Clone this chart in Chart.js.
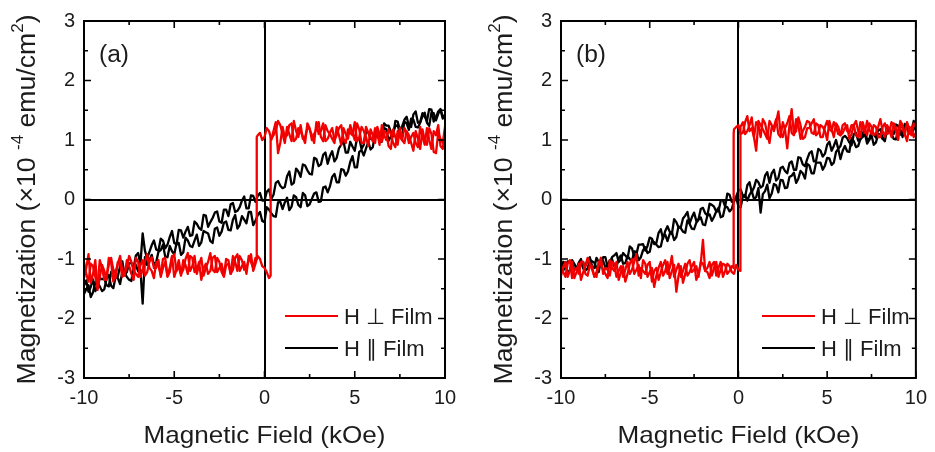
<!DOCTYPE html>
<html>
<head>
<meta charset="utf-8">
<script src="https://cdn.jsdelivr.net/npm/chart.js@4.4.0/dist/chart.umd.min.js"></script>
<style>
  html, body { margin: 0; padding: 0; background: #fff; }
  #wrap { position: relative; width: 935px; height: 452px; }
  .panel { position: absolute; top: 0; height: 452px; }
</style>
</head>
<body>
<div id="wrap">
  <div class="panel" style="left:0;width:467px"><canvas id="chartA"></canvas></div>
  <div class="panel" style="left:467px;width:468px"><canvas id="chartB"></canvas></div>
</div>
<script>
// Field grid (kOe), shared by every branch, plus the half-step points between
const field = [
  -10,-9.75,-9.5,-9.25,-9,-8.75,-8.5,-8.25,
  -8,-7.75,-7.5,-7.25,-7,-6.75,-6.5,-6.25,
  -6,-5.75,-5.5,-5.25,-5,-4.75,-4.5,-4.25,
  -4,-3.75,-3.5,-3.25,-3,-2.75,-2.5,-2.25,
  -2,-1.75,-1.5,-1.25,-1,-0.75,-0.5,-0.25,
  0,0.25,0.5,0.75,1,1.25,1.5,1.75,
  2,2.25,2.5,2.75,3,3.25,3.5,3.75,
  4,4.25,4.5,4.75,5,5.25,5.5,5.75,
  6,6.25,6.5,6.75,7,7.25,7.5,7.75,
  8,8.25,8.5,8.75,9,9.25,9.5,9.75,
  10
];
const fieldMid = [
  -9.875,-9.625,-9.375,-9.125,-8.875,-8.625,-8.375,-8.125,
  -7.875,-7.625,-7.375,-7.125,-6.875,-6.625,-6.375,-6.125,
  -5.875,-5.625,-5.375,-5.125,-4.875,-4.625,-4.375,-4.125,
  -3.875,-3.625,-3.375,-3.125,-2.875,-2.625,-2.375,-2.125,
  -1.875,-1.625,-1.375,-1.125,-0.875,-0.625,-0.375,-0.125,
  0.125,0.375,0.625,0.875,1.125,1.375,1.625,1.875,
  2.125,2.375,2.625,2.875,3.125,3.375,3.625,3.875,
  4.125,4.375,4.625,4.875,5.125,5.375,5.625,5.875,
  6.125,6.375,6.625,6.875,7.125,7.375,7.625,7.875,
  8.125,8.375,8.625,8.875,9.125,9.375,9.625,9.875
];

// Panel (a): H perpendicular (red), increasing / decreasing field
const aPerpUp = [
  -1.32,-0.92,-1.25,-1.52,-1.10,-1.35,-1.05,-1.22,
  -0.95,-1.28,-1.12,-1.35,-1.05,-1.18,-0.92,-1.20,
  -1.05,-1.25,-0.98,-1.15,-1.30,-1.02,-1.18,-0.90,
  -1.12,-1.25,-0.98,-1.15,-0.90,-1.22,-1.05,-1.30,
  -1.08,-0.95,-1.20,-1.02,-1.15,-0.92,-1.08,-1.00,
  -1.15,-1.32,1.15,0.78,1.22,1.08,1.28,1.02,
  1.15,0.95,1.20,1.10,1.30,0.98,1.15,1.02,
  1.22,0.92,1.10,1.25,1.00,1.18,0.95,1.12,
  0.98,1.15,1.25,1.00,1.10,0.88,1.05,1.20,
  0.95,1.12,0.88,1.05,1.20,0.85,1.08,0.90,
  1.15
];
const aPerpUpMid = [
  -1.15,-1.40,-1.02,-1.30,-1.20,-0.98,-1.38,-1.08,
  -1.20,-1.02,-1.25,-0.98,-1.30,-1.05,-1.15,-1.32,
  -1.12,-1.00,-1.28,-0.95,-1.18,-1.25,-1.00,-1.20,
  -0.95,-1.10,-1.28,-1.05,-1.18,-0.98,-1.22,-1.10,
  -1.25,-1.05,-0.95,-1.18,-1.02,-1.20,-0.95,-1.12,
  -1.22,1.00,1.30,0.95,1.05,1.25,0.98,1.20,
  1.05,1.28,1.00,1.18,1.05,1.25,1.10,0.95,
  1.08,1.20,1.02,1.12,1.28,0.95,1.22,1.05,
  1.20,0.92,1.08,1.18,0.95,1.15,1.00,1.12,
  1.05,0.95,1.22,0.92,1.00,1.15,1.25,0.85
];
const aPerpDown = [
  -1.05,-1.38,-1.12,-1.45,-1.15,-1.28,-0.98,-1.32,
  -1.08,-1.25,-0.95,-1.20,-1.30,-1.02,-1.22,-0.97,
  -1.15,-1.30,-1.05,-1.22,-0.92,-1.12,-1.02,-1.25,
  -0.98,-1.18,-1.35,-1.08,-1.20,-0.95,-1.15,-1.28,
  -1.02,-1.18,-0.92,-1.12,-1.25,-1.05,-0.98,1.12,
  1.05,1.15,1.08,1.32,1.10,1.22,0.98,1.15,
  1.25,1.05,1.18,0.95,1.10,1.28,1.02,1.20,
  1.08,1.25,0.95,1.12,1.30,1.05,1.15,0.90,
  1.08,1.22,0.98,1.12,0.85,1.05,1.20,0.95,
  1.08,0.82,1.02,1.18,0.92,1.10,0.78,1.02,
  1.22
];
const aPerpDownMid = [
  -1.25,-1.08,-1.30,-1.02,-1.35,-1.10,-1.18,-1.05,
  -1.30,-1.12,-1.05,-1.25,-1.10,-1.28,-1.05,-1.15,
  -1.02,-1.15,-1.30,-0.98,-1.20,-1.28,-1.10,-0.95,
  -1.22,-1.05,-1.15,-1.25,-0.98,-1.22,-1.08,-1.00,
  -1.25,-0.98,-1.20,-1.05,-0.95,-1.15,1.08,1.00,
  1.20,1.02,1.15,1.25,0.95,1.10,1.32,1.05,
  1.02,1.20,1.08,1.30,1.15,0.98,1.12,1.00,
  1.20,1.02,1.18,1.08,0.98,1.22,1.05,1.18,
  0.95,1.10,1.15,0.90,1.18,0.92,1.00,1.15,
  0.95,1.15,0.85,1.00,1.20,0.80,1.12,0.95
];
// switching steps [field, M]
const aPerpUpStep = [[0.34, -1.28], [0.34, 1.05]];
const aPerpDownStep = [[-0.43, -1.0], [-0.43, 1.05]];

// Panel (a): H parallel (black)
const aParUp = [
  -1.59,-1.44,-1.56,-1.40,-1.54,-1.33,-1.45,-1.30,
  -1.42,-1.24,-1.35,-1.12,-1.21,-1.75,-1.10,-0.93,
  -1.05,-0.85,-0.96,-0.78,-0.92,-0.73,-0.89,-0.69,
  -0.80,-0.59,-0.72,-0.55,-0.70,-0.49,-0.61,-0.39,
  -0.51,-0.34,-0.49,-0.28,-0.40,-0.21,-0.36,-0.21,
  -0.38,-0.17,-0.28,-0.05,-0.16,0.03,-0.12,0.04,
  -0.13,0.07,-0.08,0.10,-0.04,0.20,0.12,0.38,
  0.29,0.51,0.40,0.63,0.54,0.80,0.74,0.97,
  0.88,1.09,0.97,1.18,1.06,1.23,1.12,1.31,
  1.17,1.34,1.21,1.40,1.29,1.46,1.33,1.51,
  1.41
];
const aParUpMid = [
  -1.51,-1.64,-1.39,-1.46,-1.51,-1.27,-1.49,-1.32,
  -1.21,-1.30,-1.37,-1.10,-1.18,-0.97,-1.02,-1.10,
  -0.88,-0.76,-0.97,-0.87,-0.74,-0.93,-0.64,-0.78,
  -0.69,-0.78,-0.53,-0.57,-0.73,-0.47,-0.54,-0.37,
  -0.52,-0.26,-0.43,-0.34,-0.21,-0.43,-0.26,-0.36,
  -0.13,-0.23,-0.29,-0.04,-0.05,-0.18,0.07,-0.09,
  0.11,-0.11,0.01,0.12,-0.03,0.22,0.22,0.43,
  0.29,0.50,0.47,0.73,0.54,0.83,0.86,0.84,
  1.11,0.99,1.20,0.99,1.14,1.25,1.06,1.28,
  1.36,1.22,1.29,1.46,1.24,1.45,1.44,1.36
];
const aParDown = [
  -1.45,-1.55,-1.34,-1.47,-1.34,-1.44,-1.22,-1.31,
  -1.12,-1.27,-1.07,-1.14,-0.90,-0.57,-0.99,-0.77,
  -0.84,-0.66,-0.82,-0.63,-0.73,-0.51,-0.64,-0.46,
  -0.60,-0.41,-0.51,-0.27,-0.38,-0.22,-0.37,-0.17,
  -0.28,-0.06,-0.19,-0.02,-0.15,0.07,-0.04,0.11,
  -0.02,0.17,0.08,0.31,0.19,0.39,0.25,0.52,
  0.38,0.57,0.43,0.70,0.56,0.75,0.60,0.81,
  0.70,0.92,0.79,0.97,0.82,1.03,0.92,1.13,
  1.02,1.19,1.05,1.24,1.14,1.32,1.17,1.34,
  1.23,1.43,1.29,1.45,1.32,1.51,1.38,1.52,
  1.42
];
const aParDownMid = [
  -1.36,-1.47,-1.54,-1.32,-1.33,-1.46,-1.18,-1.29,
  -1.04,-1.22,-1.07,-0.94,-1.09,-0.86,-0.88,-0.69,
  -0.86,-0.69,-0.76,-0.53,-0.76,-0.52,-0.54,-0.61,
  -0.37,-0.48,-0.26,-0.46,-0.31,-0.20,-0.39,-0.17,
  -0.08,-0.21,-0.13,0.05,-0.15,0.06,0.06,-0.02,
  0.13,0.01,0.28,0.23,0.21,0.47,0.28,0.47,
  0.59,0.49,0.42,0.68,0.59,0.79,0.73,0.64,
  0.86,0.98,0.79,0.89,1.03,0.85,1.15,1.02,
  1.12,1.03,1.28,1.24,1.06,1.31,1.23,1.39,
  1.22,1.48,1.30,1.39,1.52,1.31,1.48,1.39
];

// Panel (b): H perpendicular (red)
const bPerpUp = [
  -1.28,-1.05,-1.20,-1.32,-1.08,-1.22,-0.98,-1.18,
  -1.30,-1.10,-1.25,-1.02,-1.20,-1.35,-1.12,-1.25,
  -1.00,-1.18,-1.32,-1.08,-1.22,-1.47,-1.15,-1.28,
  -1.05,-1.20,-1.55,-1.12,-1.25,-1.02,-1.18,-1.30,
  -1.08,-1.22,-1.10,-1.28,-1.05,-1.20,-1.12,-1.25,
  -1.18,1.30,1.15,1.38,0.82,1.25,1.10,1.32,
  1.15,1.48,1.05,1.28,1.12,1.35,1.02,1.22,
  1.30,1.10,1.25,1.05,1.32,1.15,1.22,1.08,
  1.28,1.12,1.25,1.05,1.20,1.32,1.10,1.22,
  1.05,1.28,1.12,1.25,1.00,1.20,1.30,1.08,
  1.22
];
const bPerpUpMid = [
  -1.15,-1.30,-1.05,-1.22,-1.35,-1.12,-1.08,-1.28,
  -1.05,-1.18,-1.32,-1.15,-1.05,-1.22,-1.38,-1.08,
  -1.25,-1.10,-1.02,-1.30,-1.15,-1.28,-1.05,-1.20,
  -1.32,-1.10,-1.28,-1.40,-1.08,-1.22,-1.12,-1.05,
  -1.20,-1.32,-1.05,-1.15,-1.30,-1.08,-1.22,-1.10,
  1.22,1.10,1.25,1.05,1.32,1.18,1.02,1.25,
  1.30,1.12,1.20,1.40,1.08,1.25,1.15,1.32,
  1.12,1.28,1.05,1.22,1.18,1.30,1.10,1.25,
  1.15,1.25,1.08,1.30,1.12,1.18,1.25,1.05,
  1.22,1.10,1.30,1.15,1.25,1.08,1.18,1.28
];
const bPerpDown = [
  -1.10,-1.30,-1.02,-1.18,-1.25,-1.05,-1.28,-1.12,
  -1.22,-0.98,-1.15,-1.28,-1.08,-1.20,-1.30,-1.05,
  -1.18,-0.92,-1.15,-1.25,-1.05,-1.20,-1.35,-1.10,
  -1.25,-0.95,-1.18,-1.30,-1.08,-1.22,-1.05,-1.25,
  -0.68,-1.15,-1.28,-1.05,-1.18,-1.10,-1.20,1.18,
  1.25,1.12,1.40,1.20,1.30,1.05,1.28,0.95,
  1.22,1.10,1.30,0.86,1.52,1.15,1.25,1.05,
  1.20,1.35,1.12,1.22,1.00,1.18,1.28,1.08,
  1.20,1.02,1.25,1.15,1.30,1.08,1.22,1.12,
  1.35,1.05,1.18,1.28,1.10,1.25,0.98,1.20,
  1.12
];
const bPerpDownMid = [
  -1.22,-1.08,-1.32,-1.15,-1.05,-1.25,-1.10,-1.30,
  -1.08,-1.25,-1.18,-1.05,-1.30,-1.12,-1.18,-1.25,
  -1.05,-1.28,-1.20,-1.10,-1.38,-1.15,-1.22,-1.02,
  -1.15,-1.30,-1.08,-1.20,-1.28,-1.12,-1.35,-1.08,
  -1.20,-1.05,-1.15,-1.30,-1.08,-1.25,-1.12,1.22,
  1.10,1.30,1.15,1.05,1.25,1.35,1.10,1.22,
  1.35,1.05,1.18,1.25,1.10,1.38,1.02,1.20,
  1.28,1.08,1.25,1.15,1.32,1.05,1.22,1.12,
  1.25,1.10,1.32,1.05,1.18,1.28,1.08,1.22,
  1.15,1.25,1.05,1.20,1.32,1.10,1.22,1.05
];
const bPerpUpStep = [[0.1, -1.2], [0.1, 1.08]];
const bPerpDownStep = [[-0.27, -1.15], [-0.27, 1.1]];

// Panel (b): H parallel (black)
const bParUp = [
  -1.18,-1.06,-1.20,-1.08,-1.17,-1.05,-1.16,-1.04,
  -1.15,-1.03,-1.14,-1.02,-1.12,-0.99,-1.08,-0.95,
  -1.04,-0.88,-0.97,-0.80,-0.88,-0.72,-0.80,-0.62,
  -0.70,-0.55,-0.63,-0.48,-0.56,-0.41,-0.50,-0.34,
  -0.42,-0.27,-0.36,-0.20,-0.30,-0.12,-0.20,-0.02,
  -0.12,0.06,-0.02,0.14,0.04,-0.22,0.14,0.02,
  0.26,0.12,0.32,0.20,0.40,0.28,0.48,0.35,
  0.57,0.44,0.62,0.50,0.70,0.58,0.80,0.68,
  0.90,0.80,0.98,0.90,1.05,0.94,1.08,0.96,
  1.10,0.98,1.14,1.02,1.17,1.05,1.20,1.10,
  1.22
];
const bParUpMid = [
  -1.05,-1.22,-1.02,-1.15,-1.10,-1.19,-1.01,-1.06,
  -1.22,-1.03,-1.11,-1.00,-1.14,-0.94,-1.07,-1.00,
  -0.87,-1.02,-0.85,-0.90,-0.70,-0.76,-0.79,-0.59,
  -0.58,-0.68,-0.45,-0.54,-0.35,-0.49,-0.39,-0.30,
  -0.43,-0.25,-0.29,-0.14,-0.28,-0.13,-0.16,0.04,
  -0.13,0.08,0.08,0.01,0.19,0.09,0.25,0.10,
  0.24,0.33,0.19,0.38,0.45,0.35,0.44,0.60,
  0.44,0.62,0.62,0.57,0.69,0.62,0.85,0.82,
  0.81,1.03,0.88,1.02,1.11,1.00,0.92,1.10,
  1.02,1.17,1.10,1.01,1.18,1.27,1.11,1.18
];
const bParDown = [
  -1.02,-1.15,-1.05,-1.18,-1.06,-1.16,-1.02,-1.12,
  -0.98,-1.10,-0.97,-1.08,-0.94,-1.05,-0.90,-0.99,
  -0.82,-0.92,-0.76,-0.86,-0.64,-0.75,-0.56,-0.66,
  -0.45,-0.58,-0.38,-0.47,-0.27,-0.40,-0.22,-0.33,
  -0.14,-0.27,-0.09,-0.20,-0.02,-0.12,0.08,-0.04,
  0.15,0.06,0.24,0.12,0.33,0.20,0.40,0.28,
  0.50,0.36,0.55,0.44,0.64,0.50,0.70,0.56,
  0.78,0.64,0.85,0.72,0.92,0.82,1.00,0.90,
  1.07,0.96,1.10,0.99,1.12,1.00,1.14,1.04,
  1.18,1.06,1.20,1.10,1.24,1.12,1.27,1.15,
  1.26
];
const bParDownMid = [
  -1.19,-1.04,-1.08,-1.17,-1.00,-1.11,-0.97,-1.15,
  -1.05,-0.97,-1.13,-0.97,-0.90,-1.01,-0.94,-0.79,
  -0.96,-0.76,-0.75,-0.78,-0.66,-0.73,-0.50,-0.53,
  -0.54,-0.33,-0.47,-0.32,-0.21,-0.30,-0.36,-0.16,
  -0.23,-0.07,-0.12,-0.20,-0.01,0.10,-0.04,0.05,
  0.17,0.04,0.29,0.20,0.29,0.23,0.46,0.44,
  0.32,0.53,0.48,0.61,0.50,0.71,0.59,0.68,
  0.81,0.65,0.82,0.77,0.97,0.90,0.85,1.04,
  1.03,0.91,1.12,1.01,1.18,1.02,1.10,1.17,
  1.02,1.18,1.12,1.26,1.09,1.21,1.15,1.32
];

// axis ticks
const xMajorTicks = [-10, -5, 0, 5, 10];
const xMinorTicks = [-7.5, -2.5, 2.5, 7.5];
const yMajorTicks = [-3, -2, -1, 0, 1, 2, 3];
const yMinorTicks = [-2.5, -1.5, -0.5, 0.5, 1.5, 2.5];

const legendLabels = ['H \u22a5 Film', 'H \u2225 Film'];
const RED = '#f20000';
const INK = '#1c1c1c';
const FONT = '"Liberation Sans", Arial, sans-serif';

function toPoints(main, mid, step) {
  const pts = [];
  field.forEach((x, i) => {
    pts.push({ x: x, y: main[i] });
    if (i < fieldMid.length) pts.push({ x: fieldMid[i], y: mid[i] });
  });
  if (step) {
    const at = pts.findIndex(p => p.x > step[0][0]);
    pts.splice(at, 0, ...step.map(s => ({ x: s[0], y: s[1] })));
  }
  return pts;
}

function branch(main, mid, step, color) {
  return {
    data: toPoints(main, mid, step),
    borderColor: color,
    borderWidth: 2.3,
    borderJoinStyle: 'round',
    pointRadius: 0,
    fill: false,
    tension: 0
  };
}

function drawStretched(ctx, text, x, y, width, align) {
  const w = ctx.measureText(text).width;
  ctx.save();
  ctx.translate(x, y);
  ctx.scale(width / w, 1);
  ctx.textAlign = align;
  ctx.fillText(text, 0, 0);
  ctx.restore();
}

const decor = {
  id: 'decor',
  afterDatasetsDraw(chart, args, opts) {
    const { ctx, chartArea: a, scales: { x, y } } = chart;
    ctx.save();
    ctx.strokeStyle = '#000';
    ctx.lineWidth = 2;
    ctx.strokeRect(a.left, a.top, a.right - a.left, a.bottom - a.top);

    // inward ticks on all four sides
    ctx.lineWidth = 1.6;
    ctx.beginPath();
    const tickX = (vals, len) => {
      vals.forEach(v => {
        const px = x.getPixelForValue(v);
        ctx.moveTo(px, a.bottom); ctx.lineTo(px, a.bottom - len);
        ctx.moveTo(px, a.top); ctx.lineTo(px, a.top + len);
      });
    };
    const tickY = (vals, len) => {
      vals.forEach(v => {
        const py = y.getPixelForValue(v);
        ctx.moveTo(a.left, py); ctx.lineTo(a.left + len, py);
        ctx.moveTo(a.right, py); ctx.lineTo(a.right - len, py);
      });
    };
    tickX(xMajorTicks, 7); tickX(xMinorTicks, 4);
    tickY(yMajorTicks, 7); tickY(yMinorTicks, 4);
    ctx.stroke();

    ctx.fillStyle = INK;
    ctx.textBaseline = 'alphabetic';

    // panel label
    ctx.font = '23px ' + FONT;
    drawStretched(ctx, opts.label, a.left + 15, 62, 30, 'left');

    // legend
    const lx = a.left + 201;
    [[RED, 316], ['#000', 348]].forEach((row, i) => {
      ctx.strokeStyle = row[0];
      ctx.lineWidth = 2.2;
      ctx.beginPath();
      ctx.moveTo(lx, row[1]);
      ctx.lineTo(lx + 53, row[1]);
      ctx.stroke();
      ctx.font = '22px ' + FONT;
      ctx.fillStyle = INK;
      ctx.fillText(legendLabels[i], lx + 59, row[1] + 8);
    });

    // x title
    ctx.font = '24px ' + FONT;
    drawStretched(ctx, 'Magnetic Field (kOe)', (a.left + a.right) / 2, 443, 242, 'center');

    // y title with superscripts
    const parts = [
      { t: 'Magnetization (\u00d710 ', s: 25, dy: 0 },
      { t: '-4', s: 16, dy: -12 },
      { t: ' emu/cm', s: 25, dy: 0 },
      { t: '2', s: 16, dy: -12 },
      { t: ')', s: 25, dy: 0 }
    ];
    let total = 0;
    parts.forEach(p => { ctx.font = p.s + 'px ' + FONT; p.w = ctx.measureText(p.t).width; total += p.w; });
    ctx.save();
    ctx.translate(a.left - 49, (a.top + a.bottom) / 2);
    ctx.rotate(-Math.PI / 2);
    ctx.scale(370 / total, 1);
    ctx.textAlign = 'left';
    let cx = -total / 2;
    parts.forEach(p => {
      ctx.font = p.s + 'px ' + FONT;
      ctx.fillText(p.t, cx, p.dy);
      cx += p.w;
    });
    ctx.restore();
    ctx.restore();
  }
};

function makeChart(id, label, yWidth, padRight, perp, par) {
  const zeroLine = c => (c.tick && c.tick.value === 0 ? '#000' : 'rgba(0,0,0,0)');
  return new Chart(document.getElementById(id), {
    type: 'line',
    data: {
      datasets: [
        branch(perp.up, perp.upMid, perp.upStep, RED),
        branch(perp.down, perp.downMid, perp.downStep, RED),
        branch(par.up, par.upMid, null, '#000'),
        branch(par.down, par.downMid, null, '#000')
      ]
    },
    options: {
      responsive: true,
      maintainAspectRatio: false,
      animation: false,
      events: [],
      layout: { padding: { top: 18, right: padRight, left: 0, bottom: 0 } },
      plugins: {
        legend: { display: false },
        tooltip: { enabled: false },
        decor: { label: label }
      },
      scales: {
        x: {
          type: 'linear',
          min: -10,
          max: 10,
          afterFit: s => { s.height = 74; },
          border: { display: false },
          grid: { drawTicks: false, color: zeroLine, lineWidth: 2 },
          ticks: { stepSize: 5, padding: 8, maxRotation: 0, color: INK, font: { family: FONT, size: 20 } }
        },
        y: {
          type: 'linear',
          min: -3,
          max: 3,
          afterFit: s => { s.width = yWidth; },
          border: { display: false },
          grid: { drawTicks: false, color: zeroLine, lineWidth: 2 },
          ticks: { stepSize: 1, padding: 9, color: INK, font: { family: FONT, size: 20 } }
        }
      }
    },
    plugins: [decor]
  });
}

makeChart('chartA', '(a)', 84, 22,
  { up: aPerpUp, upMid: aPerpUpMid, upStep: aPerpUpStep, down: aPerpDown, downMid: aPerpDownMid, downStep: aPerpDownStep },
  { up: aParUp, upMid: aParUpMid, down: aParDown, downMid: aParDownMid });
makeChart('chartB', '(b)', 94, 13,
  { up: bPerpUp, upMid: bPerpUpMid, upStep: bPerpUpStep, down: bPerpDown, downMid: bPerpDownMid, downStep: bPerpDownStep },
  { up: bParUp, upMid: bParUpMid, down: bParDown, downMid: bParDownMid });
</script>
</body>
</html>
